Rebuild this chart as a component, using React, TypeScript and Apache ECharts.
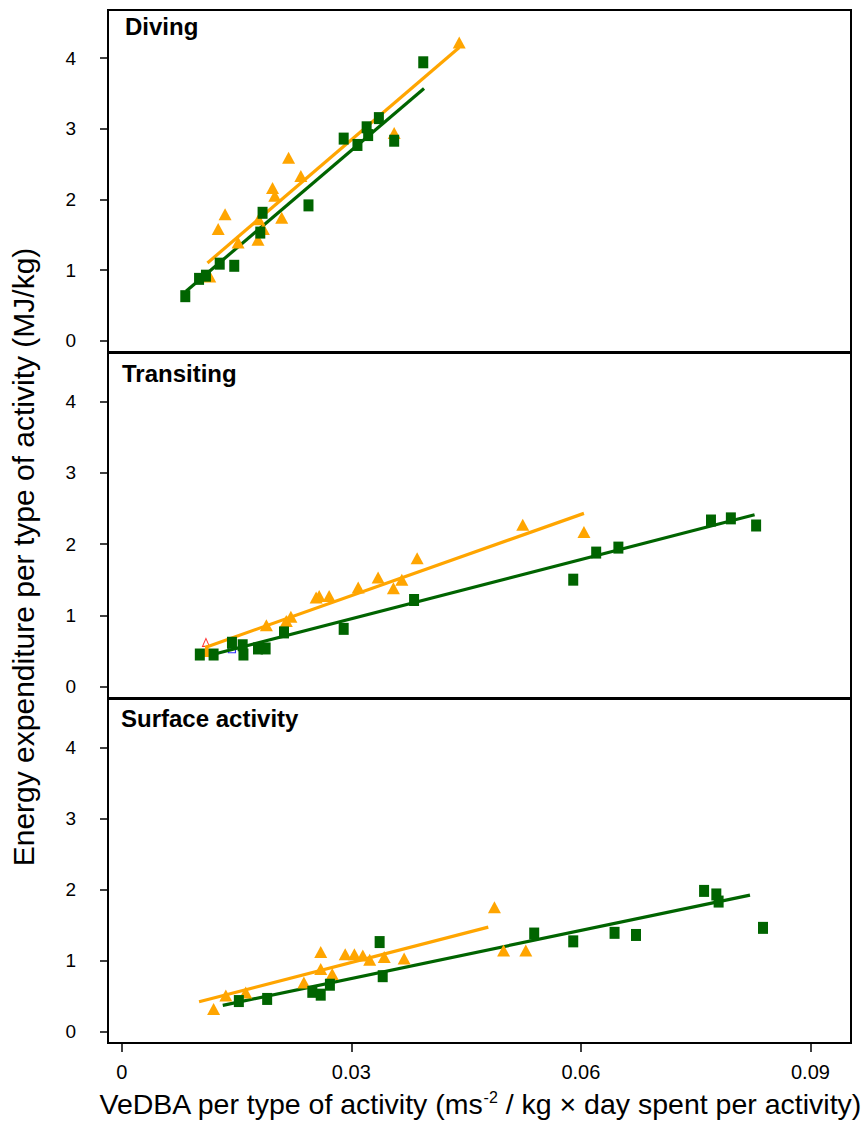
import React, { useEffect, useRef } from "react";
import * as echarts from "echarts";

const panelTitles = ["Diving", "Transiting", "Surface activity"];
const yTickValues = [0, 1, 2, 3, 4];
const xTickValues = [0, 0.03, 0.06, 0.09];
const xTickLabels = ["0", "0.03", "0.06", "0.09"];

// Diving
const divingGreen: number[][] = [
  [0.0083, 0.63], [0.0101, 0.875], [0.011, 0.92], [0.0128, 1.09], [0.0147, 1.06],
  [0.0181, 1.53], [0.0184, 1.81], [0.0244, 1.915], [0.029, 2.86], [0.0308, 2.77],
  [0.032, 3.02], [0.0322, 2.91], [0.0336, 3.15], [0.0356, 2.83], [0.0394, 3.94],
];
const divingOrange: number[][] = [
  [0.0115, 0.91], [0.0126, 1.58], [0.0135, 1.79], [0.0152, 1.39], [0.0178, 1.43],
  [0.0179, 1.72], [0.0185, 1.58], [0.0197, 2.16], [0.02, 2.05], [0.0209, 1.74],
  [0.0218, 2.59], [0.0234, 2.33], [0.0356, 2.94], [0.0441, 4.22],
];
const divingGreenFit: number[][] = [[0.0084, 0.7], [0.0395, 3.57]];
const divingOrangeFit: number[][] = [[0.0112, 1.1], [0.0441, 4.15]];

// Transiting
const transitGreen: number[][] = [
  [0.0102, 0.45], [0.012, 0.45], [0.0144, 0.615], [0.0158, 0.58], [0.0159, 0.45],
  [0.0178, 0.535], [0.0188, 0.535], [0.0212, 0.76], [0.029, 0.81], [0.0382, 1.215],
  [0.059, 1.5], [0.062, 1.88], [0.0649, 1.95], [0.077, 2.33], [0.0796, 2.36], [0.0829, 2.26],
];
const transitOrange: number[][] = [
  [0.0111, 0.5], [0.0189, 0.86], [0.0215, 0.92], [0.0221, 0.98], [0.0254, 1.25],
  [0.0258, 1.27], [0.0271, 1.27], [0.0309, 1.39], [0.0335, 1.53], [0.0355, 1.38],
  [0.0366, 1.5], [0.0386, 1.8], [0.0524, 2.27], [0.0604, 2.17],
];
const transitRed: number[][] = [[0.011, 0.62]];
const transitBlue: number[][] = [[0.0144, 0.51]];
const transitGreenFit: number[][] = [[0.0115, 0.44], [0.0827, 2.41]];
const transitOrangeFit: number[][] = [[0.0109, 0.55], [0.0604, 2.43]];

// Surface activity
const surfaceGreen: number[][] = [
  [0.0153, 0.43], [0.019, 0.46], [0.0249, 0.56], [0.026, 0.52], [0.0272, 0.66],
  [0.0337, 1.26], [0.0341, 0.78], [0.0539, 1.38], [0.059, 1.27], [0.0644, 1.39],
  [0.0672, 1.36], [0.0761, 1.98], [0.0777, 1.93], [0.078, 1.83], [0.0838, 1.46],
];
const surfaceOrange: number[][] = [
  [0.012, 0.32], [0.0136, 0.51], [0.0162, 0.55], [0.0238, 0.69], [0.026, 1.12],
  [0.026, 0.88], [0.0275, 0.81], [0.0292, 1.09], [0.0304, 1.09], [0.0315, 1.07],
  [0.0324, 1.01], [0.0343, 1.05], [0.0369, 1.03], [0.0487, 1.75], [0.0499, 1.14],
  [0.0528, 1.14],
];
const surfaceGreenFit: number[][] = [[0.0132, 0.37], [0.0821, 1.92]];
const surfaceOrangeFit: number[][] = [[0.0101, 0.42], [0.0479, 1.47]];

const GREEN = "#006400";
const ORANGE = "#FFA500";
const FONT = "Liberation Sans, Arial, Helvetica, sans-serif";

const panels = [
  { green: divingGreen, orange: divingOrange, gFit: divingGreenFit, oFit: divingOrangeFit, extraRed: [] as number[][], extraBlue: [] as number[][] },
  { green: transitGreen, orange: transitOrange, gFit: transitGreenFit, oFit: transitOrangeFit, extraRed: transitRed, extraBlue: transitBlue },
  { green: surfaceGreen, orange: surfaceOrange, gFit: surfaceGreenFit, oFit: surfaceOrangeFit, extraRed: [] as number[][], extraBlue: [] as number[][] },
];

const gridTops = [10, 353, 699];
const gridHeights = [342, 345, 344];

export default function App() {
  const ref = useRef<HTMLDivElement>(null);
  useEffect(() => {
    if (!ref.current) return;
    const chart = echarts.init(ref.current, null, { renderer: "svg" });
    const grids = gridTops.map((top, i) => ({
      left: 108,
      right: 12,
      top,
      height: gridHeights[i],
      show: true,
      borderColor: "#000",
      borderWidth: 2,
      backgroundColor: "transparent",
    }));
    const xAxes = panels.map((_, i) => ({
      type: "value",
      gridIndex: i,
      position: "bottom",
      min: -0.0018,
      max: 0.0953,
      axisLine: { show: false, onZero: false },
      splitLine: { show: false },
      axisTick: {
        show: i === 2,
        inside: false,
        length: 9,
        lineStyle: { color: "#000", width: 1.5 },
        customValues: xTickValues,
      },
      axisLabel: {
        show: i === 2,
        margin: 19,
        color: "#000",
        fontSize: 20,
        fontFamily: FONT,
        customValues: xTickValues,
        formatter: (v: number) => {
          const idx = xTickValues.findIndex((t) => Math.abs(t - v) < 1e-9);
          return idx >= 0 ? xTickLabels[idx] : "";
        },
      },
    }));
    const yAxes = panels.map((_, i) => ({
      type: "value",
      gridIndex: i,
      position: "left",
      min: -0.16,
      max: 4.68,
      axisLine: { show: false, onZero: false },
      splitLine: { show: false },
      axisTick: {
        show: true,
        inside: false,
        length: 8,
        lineStyle: { color: "#000", width: 1.5 },
        customValues: yTickValues,
      },
      axisLabel: {
        show: true,
        margin: 32,
        color: "#000",
        fontSize: 19,
        fontFamily: FONT,
        customValues: yTickValues,
      },
    }));
    const series: any[] = [];
    panels.forEach((p, i) => {
      series.push({
        type: "line",
        xAxisIndex: i,
        yAxisIndex: i,
        data: p.gFit,
        symbol: "none",
        lineStyle: { color: GREEN, width: 3.2 },
        z: 3,
      });
      series.push({
        type: "line",
        xAxisIndex: i,
        yAxisIndex: i,
        data: p.oFit,
        symbol: "none",
        lineStyle: { color: ORANGE, width: 3.2 },
        z: 3,
      });
      series.push({
        type: "scatter",
        xAxisIndex: i,
        yAxisIndex: i,
        data: p.orange,
        symbol: "triangle",
        symbolSize: [13, 12],
        itemStyle: { color: ORANGE, opacity: 1 },
        z: 4,
      });
      series.push({
        type: "scatter",
        xAxisIndex: i,
        yAxisIndex: i,
        data: p.green,
        symbol: "rect",
        symbolSize: [10, 12],
        itemStyle: { color: GREEN, opacity: 1 },
        z: 5,
      });
      if (p.extraRed.length) {
        series.push({
          type: "scatter",
          xAxisIndex: i,
          yAxisIndex: i,
          data: p.extraRed,
          symbol: "triangle",
          symbolSize: [7, 8],
          itemStyle: { color: "transparent", borderColor: "#ff0000", borderWidth: 1 },
          z: 2,
        });
      }
      if (p.extraBlue.length) {
        series.push({
          type: "scatter",
          xAxisIndex: i,
          yAxisIndex: i,
          data: p.extraBlue,
          symbol: "rect",
          symbolSize: [7, 5],
          itemStyle: { color: "transparent", borderColor: "#0000ff", borderWidth: 1 },
          z: 2,
        });
      }
    });
    const titleTops = [14, 361, 706];
    const titleLefts = [125, 122, 121];
    const graphic: any[] = panelTitles.map((t, i) => ({
      type: "text",
      left: titleLefts[i],
      top: titleTops[i],
      style: { text: t, fontSize: 24, fontWeight: "bold", fontFamily: FONT, fill: "#000" },
    }));
    graphic.push({
      type: "text",
      x: 8,
      y: 557,
      rotation: Math.PI / 2,
      style: {
        text: "Energy expenditure per type of activity (MJ/kg)",
        fontSize: 30,
        fontFamily: FONT,
        fill: "#000",
        align: "center",
        verticalAlign: "top",
      },
    });
    graphic.push({
      type: "text",
      x: 480,
      y: 1089,
      style: {
        text: "{n|VeDBA per type of activity (ms}{s|-2}{n| / kg × day spent per activity)}",
        align: "center",
        verticalAlign: "top",
        rich: {
          n: { fontSize: 28.5, fontFamily: FONT, fill: "#000", color: "#000" },
          s: { fontSize: 16, fontFamily: FONT, fill: "#000", color: "#000", verticalAlign: "top", padding: [0, 0, 14, 0] },
        },
      },
    });
    chart.setOption({
      animation: false,
      backgroundColor: "#fff",
      grid: grids,
      xAxis: xAxes,
      yAxis: yAxes,
      series,
      graphic,
    });
    return () => chart.dispose();
  }, []);
  return (
    <div
      ref={ref}
      style={{ position: "fixed", left: 0, top: 0, width: 863, height: 1124, background: "#fff" }}
    />
  );
}
